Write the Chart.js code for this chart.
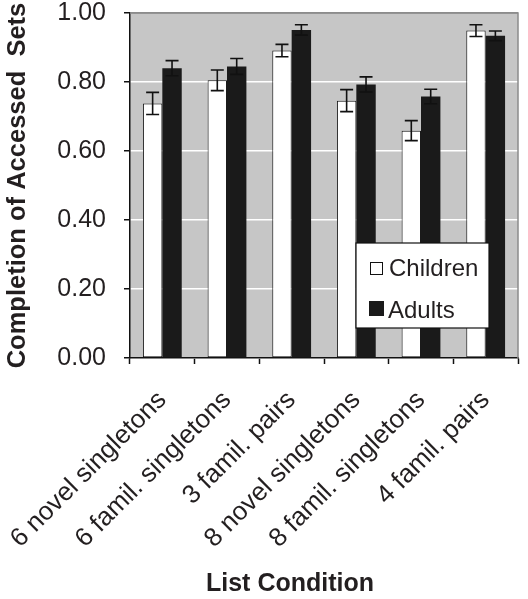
<!DOCTYPE html>
<html>
<head>
<meta charset="utf-8">
<script src="https://cdn.jsdelivr.net/npm/chart.js@4"></script>
<style>
  html, body { margin: 0; padding: 0; background: #fff; }
  #wrap { position: relative; width: 528px; height: 599px; }
</style>
</head>
<body>
<div id="wrap"><canvas id="chart" width="528" height="599"></canvas></div>
<script>
const categories = [
  "6 novel singletons",
  "6 famil. singletons",
  "3 famil. pairs",
  "8 novel singletons",
  "8 famil. singletons",
  "4 famil. pairs",
];
const children = [0.738, 0.805, 0.891, 0.746, 0.659, 0.949];
const childrenErr = [0.032, 0.030, 0.018, 0.032, 0.029, 0.017];
const adults = [0.840, 0.845, 0.951, 0.793, 0.758, 0.934];
const adultsErr = [0.022, 0.023, 0.015, 0.022, 0.021, 0.014];
const yTicks = [0, 0.2, 0.4, 0.6, 0.8, 1.0];

const FONT = "'Liberation Sans', Arial, Helvetica, sans-serif";
const TEXT = "#231f20";

// plot area fill + grey frame, error bars, legend box and x title
const decor = {
  id: "decor",
  beforeDraw(chart) {
    const { ctx, chartArea: a } = chart;
    ctx.save();
    ctx.fillStyle = "#c6c6c6";
    ctx.fillRect(a.left, a.top, a.right - a.left, a.bottom - a.top);
    ctx.restore();
  },
  beforeDatasetsDraw(chart) {
    const { ctx, chartArea: a } = chart;
    ctx.save();
    ctx.strokeStyle = "#8c8c8c";
    ctx.lineWidth = 1.5;
    ctx.beginPath();
    ctx.moveTo(a.left, a.top);
    ctx.lineTo(a.right, a.top);
    ctx.lineTo(a.right, a.bottom);
    ctx.stroke();
    ctx.restore();
  },
  afterDatasetsDraw(chart) {
    const { ctx } = chart;
    const y = chart.scales.y;
    const errs = [childrenErr, adultsErr];
    ctx.save();
    ctx.strokeStyle = "#111";
    ctx.lineWidth = 1.6;
    chart.data.datasets.forEach((ds, di) => {
      const meta = chart.getDatasetMeta(di);
      meta.data.forEach((bar, i) => {
        const v = ds.data[i];
        const e = errs[di][i];
        const yt = y.getPixelForValue(v + e);
        const yb = y.getPixelForValue(v - e);
        const x = bar.x;
        const cap = 6.5;
        ctx.beginPath();
        ctx.moveTo(x, yt); ctx.lineTo(x, yb);
        ctx.moveTo(x - cap, yt); ctx.lineTo(x + cap, yt);
        ctx.moveTo(x - cap, yb); ctx.lineTo(x + cap, yb);
        ctx.stroke();
      });
    });
    ctx.restore();
  },
  afterDraw(chart) {
    const { ctx, chartArea: a } = chart;
    ctx.save();
    // legend
    const lx = a.right - 162, ly = a.top + 230, lw = 133, lh = 85;
    ctx.fillStyle = "#fff";
    ctx.fillRect(lx, ly, lw, lh);
    ctx.strokeStyle = "#111";
    ctx.lineWidth = 1.2;
    ctx.strokeRect(lx, ly, lw, lh);
    ctx.lineWidth = 1;
    ctx.strokeRect(lx + 14.5, ly + 19.5, 12, 12);
    ctx.fillStyle = "#1a1a1a";
    ctx.fillRect(lx + 13, ly + 58, 15, 15);
    ctx.fillStyle = TEXT;
    ctx.font = "24px " + FONT;
    ctx.textBaseline = "middle";
    ctx.textAlign = "left";
    ctx.fillText("Children", lx + 33, ly + 26);
    ctx.fillText("Adults", lx + 32, ly + 68);
    // x title
    ctx.font = "bold 25px " + FONT;
    ctx.textAlign = "center";
    ctx.fillText("List Condition", a.left + 160, chart.height - 15);
    ctx.restore();
  },
};

new Chart(document.getElementById("chart"), {
  type: "bar",
  data: {
    labels: categories,
    datasets: [
      {
        label: "Children",
        data: children,
        backgroundColor: "#ffffff",
        borderColor: "#1a1a1a",
        borderWidth: 1,
        borderSkipped: false,
        categoryPercentage: 0.6,
        barPercentage: 1.0,
      },
      {
        label: "Adults",
        data: adults,
        backgroundColor: "#1a1a1a",
        borderColor: "#1a1a1a",
        borderWidth: 0,
        categoryPercentage: 0.6,
        barPercentage: 1.0,
      },
    ],
  },
  options: {
    responsive: false,
    animation: false,
    devicePixelRatio: 1,
    layout: { padding: { top: 13, right: 10, left: 0, bottom: 0 } },
    plugins: {
      legend: { display: false },
      tooltip: { enabled: false },
    },
    scales: {
      x: {
        grid: {
          offset: true,
          drawOnChartArea: false,
          drawTicks: true,
          tickLength: 6,
          tickColor: "#111",
          tickWidth: 1.5,
        },
        border: { color: "#111", width: 1.5 },
        ticks: {
          color: TEXT,
          maxRotation: 45,
          minRotation: 45,
          padding: 21,
          font: { family: FONT, size: 26 },
        },
        afterFit(scale) {
          scale.height = 241;
          scale.paddingLeft = 0;
          scale.paddingRight = 0;
        },
      },
      y: {
        min: 0,
        max: 1,
        afterBuildTicks(scale) {
          scale.ticks = yTicks.map((v) => ({ value: v }));
        },
        grid: {
          color: (c) => (c.tick && c.tick.value === 1 ? "#8c8c8c" : "#ffffff"),
          lineWidth: 1.5,
          tickLength: 6,
          tickColor: "#111",
          tickWidth: 1.5,
        },
        border: { color: "#111", width: 1.5 },
        ticks: {
          color: TEXT,
          padding: 18,
          font: { family: FONT, size: 25 },
          callback: (v) => Number(v).toFixed(2),
        },
        title: {
          display: true,
          text: "Completion of Accessed  Sets",
          color: TEXT,
          padding: { top: 3, bottom: 0 },
          font: { family: FONT, size: 25.5, weight: "bold" },
        },
        afterFit(scale) {
          scale.width = 130;
          scale.paddingTop = 0;
          scale.paddingBottom = 0;
        },
      },
    },
  },
  plugins: [decor],
});
</script>
</body>
</html>
